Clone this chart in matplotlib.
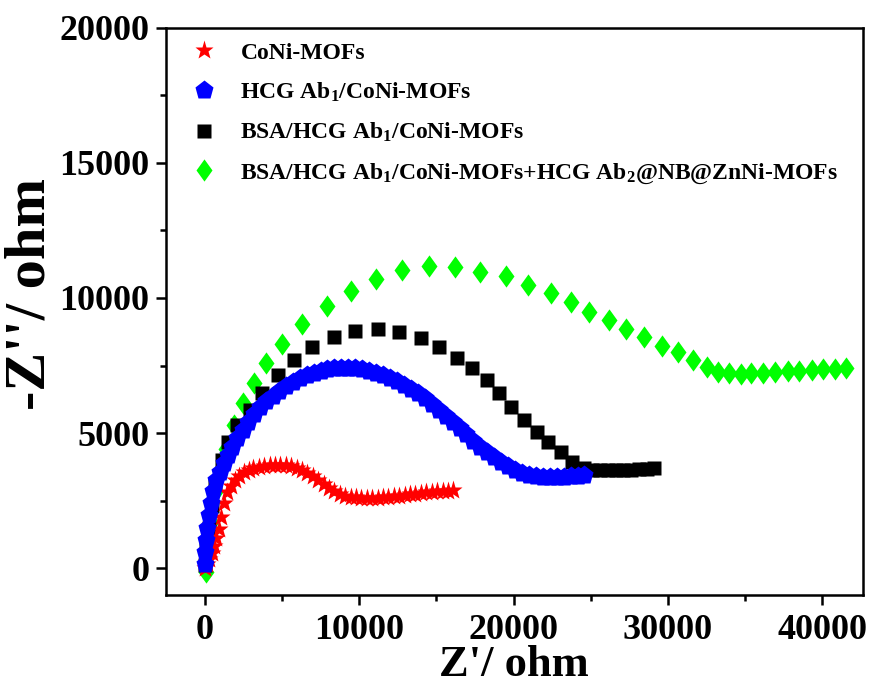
import numpy as np
import matplotlib.pyplot as plt
from matplotlib.ticker import MultipleLocator

# ---------------------------
# Nyquist data (Z' / -Z'')
# ---------------------------
coni_x = [0, 150, 300, 450, 600, 750, 900, 1050, 1250, 1450, 1700, 1950, 2250, 2550, 2850,
          3150, 3500, 3850, 4200, 4550, 4900, 5250, 5600, 5950, 6300, 6650, 7000, 7350,
          7700, 8050, 8400, 8750, 9100, 9450, 9800, 10150, 10500, 10850, 11200, 11550,
          11900, 12250, 12600, 12950, 13300, 13650, 14000, 14350, 14700, 15050, 15400,
          15750, 16100]
coni_y = [0, 150, 350, 550, 800, 1100, 1450, 1900, 2400, 2800, 3050, 3250, 3420, 3540, 3630,
          3690, 3740, 3780, 3810, 3820, 3820, 3800, 3770, 3720, 3630, 3520, 3390, 3250,
          3100, 2960, 2840, 2750, 2680, 2640, 2615, 2600, 2590, 2590, 2600, 2615,
          2635, 2655, 2680, 2705, 2730, 2755, 2780, 2800, 2820, 2835, 2855,
          2870, 2890]

ab1_x = [0, 30, 80, 150, 250, 380, 550, 750, 990, 1250, 1500, 1800, 2100, 2450, 2800, 3200,
         3600, 4000, 4400, 4800, 5250, 5700, 6150, 6600, 7050, 7500, 7950, 8400, 8850, 9300,
         9750, 10200, 10650, 11100, 11550, 12000, 12450, 12900, 13350, 13800, 14250, 14700,
         15150, 15600, 16050, 16500, 16950, 17400, 17850, 18300, 18750, 19200, 19650,
         20100, 20550, 21000, 21450, 21900, 22350, 22800, 23250, 23700, 24150, 24550]
ab1_y = [150, 600, 1050, 1500, 1950, 2400, 2850, 3250, 3550, 3900, 4200, 4500, 4800, 5100,
         5400, 5700, 5960, 6180, 6380, 6560, 6740, 6890, 7020, 7130, 7220, 7300, 7360, 7400,
         7420, 7420, 7400, 7360, 7300, 7220, 7130, 7030, 6920, 6790, 6640, 6470, 6280, 6080,
         5860, 5640, 5410, 5180, 4950, 4720, 4500, 4290, 4100, 3920, 3760,
         3620, 3510, 3440, 3400, 3380, 3375, 3375, 3380, 3395, 3410, 3440]

bsa_x = [0, 100, 250, 450, 700, 1100, 1500, 2080, 2920, 3730, 4750, 5760, 6980, 8370, 9750,
         11200, 12610, 14000, 15170, 16320, 17340, 18290, 19070, 19860, 20670, 21530,
         22260, 23040, 23790, 24570, 25080, 25580, 26100, 26600, 27100, 27610, 28120,
         28620, 29100]
bsa_y = [100, 700, 1500, 2300, 3100, 4000, 4680, 5300, 5850, 6470, 7150, 7700, 8200, 8570,
         8790, 8840, 8750, 8510, 8170, 7770, 7400, 6960, 6490, 5980, 5480, 5050,
         4680, 4310, 3940, 3690, 3640, 3620, 3620, 3620, 3630, 3640, 3660,
         3670, 3690]

ab2_x = [100, 200, 400, 700, 1000, 1400, 1900, 2500, 3200, 4000, 5000, 6300, 7900, 9500,
         11100, 12800, 14500, 16200, 17850, 19500, 20950, 22400, 23750, 24900, 26150,
         27300, 28450, 29600, 30650, 31600, 32550, 33250, 33950, 34700, 35400, 36150,
         36950, 37750, 38500, 39300, 40050, 40800, 41500]
ab2_y = [-150, 700, 1700, 2800, 3600, 4400, 5300, 6100, 6850, 7600, 8300, 9050, 9700, 10250,
         10700, 11050, 11200, 11150, 10980, 10800, 10480, 10180, 9850, 9480, 9180,
         8850, 8550, 8220, 8000, 7700, 7440, 7260, 7220, 7190, 7210, 7230,
         7270, 7300, 7310, 7330, 7360, 7370, 7400]

labels = ["CoNi-MOFs",
          "HCG Ab$_1$/CoNi-MOFs",
          "BSA/HCG Ab$_1$/CoNi-MOFs",
          "BSA/HCG Ab$_1$/CoNi-MOFs+HCG Ab$_2$@NB@ZnNi-MOFs"]

# ---------------------------
# Style
# ---------------------------
plt.rcParams['font.family'] = ['Liberation Serif', 'DejaVu Serif']
plt.rcParams['font.weight'] = 'bold'
plt.rcParams['mathtext.fontset'] = 'custom'
plt.rcParams['mathtext.rm'] = 'Liberation Serif:bold'
plt.rcParams['mathtext.it'] = 'Liberation Serif:bold'
plt.rcParams['mathtext.bf'] = 'Liberation Serif:bold'

diamond = [(0, 1), (0.72, 0), (0, -1), (-0.72, 0), (0, 1)]

fig = plt.figure(figsize=(8.74, 6.89), dpi=100)
ax = fig.add_axes([0.190, 0.1364, 0.797, 0.823])

h4, = ax.plot(ab2_x, ab2_y, ls='none', marker=diamond, ms=16, color='#00ff00', mec='none')
h3, = ax.plot(bsa_x, bsa_y, ls='none', marker='s', ms=10, color='black', mec='none')
h1, = ax.plot(coni_x, coni_y, ls='none', marker='*', ms=14, color='red', mec='none')
h2, = ax.plot(ab1_x, ab1_y, ls='none', marker='p', ms=14, color='blue', mec='none')

ax.set_xlim(-2500, 42600)
ax.set_ylim(-1000, 20000)
ax.xaxis.set_major_locator(MultipleLocator(10000))
ax.xaxis.set_minor_locator(MultipleLocator(5000))
ax.yaxis.set_major_locator(MultipleLocator(5000))
ax.yaxis.set_minor_locator(MultipleLocator(2500))

ax.tick_params(which='major', direction='out', length=7, width=1.8, labelsize=26)
ax.tick_params(which='minor', direction='out', length=4, width=1.8)
ax.tick_params(axis='x', pad=7)
ax.tick_params(axis='y', pad=5)
for s in ax.spines.values():
    s.set_linewidth(1.8)

ax.set_xlabel("Z'/ ohm", fontsize=32, fontweight='bold', labelpad=-2)
ax.set_ylabel("-Z''/ ohm", fontsize=42, fontweight='bold')
ax.yaxis.set_label_coords(-0.157, 0.53)

leg = ax.legend([h1, h2, h3, h4], labels, loc='upper left', frameon=False,
                fontsize=17, labelspacing=0.72, handletextpad=0.55,
                borderaxespad=0.2, bbox_to_anchor=(0.0, 1.0))

fig.savefig("out.png", dpi=100)
